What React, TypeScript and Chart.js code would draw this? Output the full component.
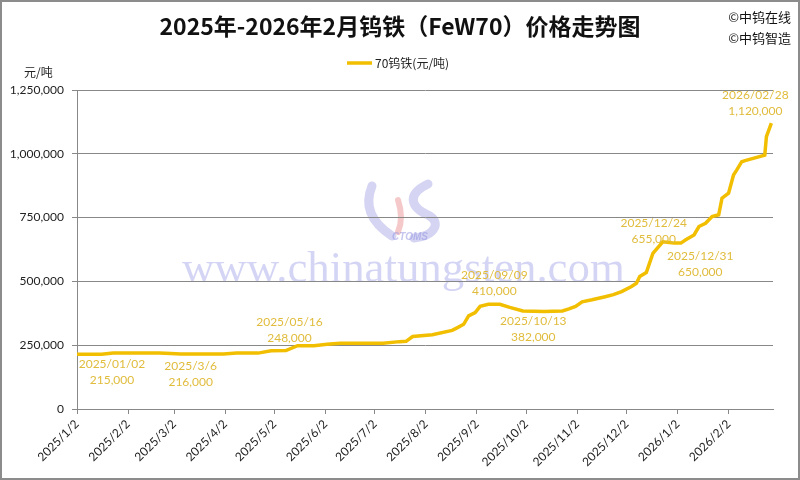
import React, { useEffect, useRef } from "react";
import { Chart, registerables } from "chart.js";
Chart.register(...registerables);

// ---------- data ----------
const priceDates = [
  "2025/01/02", "2025/01/10", "2025/01/17", "2025/01/24", "2025/02/07", "2025/02/21", "2025/02/28",
  "2025/03/06", "2025/03/20", "2025/04/01", "2025/04/09", "2025/04/22", "2025/04/30", "2025/05/09",
  "2025/05/16", "2025/05/26", "2025/06/03", "2025/06/11", "2025/06/25", "2025/07/07", "2025/07/17",
  "2025/07/21", "2025/07/25", "2025/08/06", "2025/08/18", "2025/08/21", "2025/08/25", "2025/08/28",
  "2025/09/01", "2025/09/04", "2025/09/09", "2025/09/16", "2025/09/22", "2025/09/30", "2025/10/13",
  "2025/10/24", "2025/10/28", "2025/11/01", "2025/11/05", "2025/11/11", "2025/11/19", "2025/11/24",
  "2025/11/29", "2025/12/05", "2025/12/08", "2025/12/10", "2025/12/14", "2025/12/18", "2025/12/24",
  "2025/12/28", "2025/12/31", "2026/01/04", "2026/01/07", "2026/01/12", "2026/01/15", "2026/01/19",
  "2026/01/23", "2026/01/27", "2026/01/29", "2026/02/02", "2026/02/05", "2026/02/07", "2026/02/10",
  "2026/02/12", "2026/02/24", "2026/02/25", "2026/02/28",
];
const priceValues = [
  215000, 215000, 215000, 219000, 219000, 219000, 217000,
  216000, 216000, 216000, 219000, 219000, 228000, 229000,
  248000, 248000, 254000, 258000, 258000, 258000, 264000,
  265000, 284000, 291000, 308000, 318000, 332000, 365000,
  378000, 402000, 410000, 410000, 398000, 384000, 382000,
  384000, 392000, 402000, 420000, 428000, 440000, 448000,
  460000, 480000, 493000, 519000, 535000, 610000, 655000,
  652000, 650000, 650000, 663000, 682000, 715000, 728000,
  754000, 761000, 826000, 846000, 917000, 937000, 969000,
  973000, 995000, 1067000, 1120000,
];
const seriesName = "70钨铁(元/吨)";
const xTickDates = [
  "2025/1/2", "2025/2/2", "2025/3/2", "2025/4/2", "2025/5/2", "2025/6/2", "2025/7/2",
  "2025/8/2", "2025/9/2", "2025/10/2", "2025/11/2", "2025/12/2", "2026/1/2", "2026/2/2",
];
const xTickLabels = [
  "2025/1/2", "2025/2/2", "2025/3/2", "2025/4/2", "2025/5/2", "2025/6/2", "2025/7/2",
  "2025/8/2", "2025/9/2", "2025/10/2", "2025/11/2", "2025/12/2", "2026/1/2", "2026/2/2",
];
const yMin = 0;
const yMax = 1250000;
const yStep = 250000;
const annDates = ["2025/01/02", "2025/03/06", "2025/05/16", "2025/09/09", "2025/10/13", "2025/12/24", "2025/12/31", "2026/02/28"];
const annDateLabels = ["2025/01/02", "2025/3/6", "2025/05/16", "2025/09/09", "2025/10/13", "2025/12/24", "2025/12/31", "2026/02/28"];
const annValues = [215000, 216000, 248000, 410000, 382000, 655000, 650000, 1120000];
const annValueLabels = ["215,000", "216,000", "248,000", "410,000", "382,000", "655,000", "650,000", "1,120,000"];

const title = "2025年-2026年2月钨铁（FeW70）价格走势图";
const copyrights = ["©中钨在线", "©中钨智造"];
const unitLabel = "元/吨";
const watermark = "www.chinatungsten.com";

// ---------- styling ----------
const annOffsets: [number, number][] = [[35, 10], [10, 12], [-8, -24], [6, -29], [-11, 10], [-9, -19], [26, 13], [-16, -28]];
const LINE = "#F2BE00";
const ANN = "#E0BC3C";
const AXIS = "#888888";
const FONT = "Lato, 'Open Sans', sans-serif";
const CJK = "'Noto Sans CJK SC', sans-serif";

const base = Date.UTC(2025, 0, 2);
function dayOf(s: string): number {
  const [y, m, d] = s.split("/").map(Number);
  return Math.round((Date.UTC(y, m - 1, d) - base) / 86400000);
}

const decor = {
  id: "decor",
  beforeDraw(chart: any) {
    const ctx = chart.ctx as CanvasRenderingContext2D;
    ctx.save();
    ctx.fillStyle = "#ffffff";
    ctx.fillRect(0, 0, chart.width, chart.height);
    // watermark logo
    ctx.lineCap = "round";
    ctx.strokeStyle = "rgba(150,150,225,0.4)";
    ctx.lineWidth = 9;
    ctx.beginPath();
    ctx.moveTo(372, 186);
    ctx.quadraticCurveTo(360, 215, 392, 236);
    ctx.stroke();
    ctx.strokeStyle = "rgba(230,120,120,0.4)";
    ctx.lineWidth = 6;
    ctx.beginPath();
    ctx.moveTo(398, 200);
    ctx.quadraticCurveTo(404, 218, 398, 232);
    ctx.stroke();
    ctx.strokeStyle = "rgba(150,150,225,0.4)";
    ctx.lineWidth = 9;
    ctx.beginPath();
    ctx.moveTo(428, 184);
    ctx.bezierCurveTo(405, 195, 412, 208, 428, 215);
    ctx.bezierCurveTo(442, 222, 435, 236, 414, 238);
    ctx.stroke();
    ctx.fillStyle = "rgba(150,150,225,0.55)";
    ctx.font = "italic bold 10px 'Liberation Sans', sans-serif";
    ctx.textAlign = "center";
    ctx.textBaseline = "middle";
    ctx.fillText("CTOMS", 410, 237);
    // watermark text
    ctx.font = "44px 'Liberation Serif', serif";
    const w = ctx.measureText(watermark).width;
    const size = 44 * 443 / w;
    ctx.font = `${size}px 'Liberation Serif', serif`;
    ctx.fillStyle = "rgba(120,120,220,0.32)";
    ctx.textAlign = "left";
    ctx.textBaseline = "alphabetic";
    ctx.fillText(watermark, 182, 282);
    ctx.restore();
  },
  afterDraw(chart: any) {
    const ctx = chart.ctx as CanvasRenderingContext2D;
    const xs = chart.scales.x;
    const ys = chart.scales.y;
    ctx.save();
    // title
    ctx.fillStyle = "#111";
    ctx.font = `bold 23px ${CJK}`;
    ctx.textAlign = "center";
    ctx.textBaseline = "middle";
    ctx.fillText(title, 400, 26);
    // copyrights
    ctx.font = `13px ${CJK}`;
    ctx.textAlign = "right";
    ctx.fillStyle = "#111";
    ctx.fillText(copyrights[0], 791, 17);
    ctx.fillText(copyrights[1], 791, 38);
    // legend
    ctx.strokeStyle = LINE;
    ctx.lineWidth = 3.5;
    ctx.beginPath();
    ctx.moveTo(347, 63);
    ctx.lineTo(372, 63);
    ctx.stroke();
    ctx.font = `12px ${CJK}`;
    ctx.textAlign = "left";
    ctx.fillStyle = "#222";
    ctx.fillText(seriesName, 375, 63);
    // unit
    ctx.fillText(unitLabel, 24, 72);
    // annotations
    ctx.font = `12px ${FONT}`;
    ctx.fillStyle = ANN;
    ctx.textAlign = "center";
    annDates.forEach((d, i) => {
      const px = xs.getPixelForValue(dayOf(d));
      const py = ys.getPixelForValue(annValues[i]);
      const [dx, dy] = annOffsets[i];
      ctx.fillText(annDateLabels[i], px + dx, py + dy);
      ctx.fillText(annValueLabels[i], px + dx, py + dy + 16);
    });
    // outer border
    ctx.strokeStyle = "#8c8c8c";
    ctx.lineWidth = 2;
    ctx.strokeRect(1, 1, chart.width - 2, chart.height - 2);
    ctx.restore();
  },
};

export default function App() {
  const ref = useRef<HTMLCanvasElement | null>(null);
  useEffect(() => {
    if (!ref.current) return;
    const points = priceDates.map((d, i) => ({ x: dayOf(d), y: priceValues[i] }));
    const chart = new Chart(ref.current, {
      type: "line",
      data: {
        datasets: [
          {
            label: seriesName,
            data: points,
            borderColor: LINE,
            backgroundColor: LINE,
            borderWidth: 3.5,
            pointRadius: 0,
            tension: 0,
            fill: false,
          },
        ],
      },
      options: {
        responsive: false,
        animation: false,
        devicePixelRatio: 1,
        layout: { padding: { left: 0, top: 90, right: 27, bottom: 0 } },
        plugins: {
          legend: { display: false },
          title: { display: false },
          tooltip: { enabled: false },
        },
        scales: {
          x: {
            type: "linear",
            min: 0,
            max: 423,
            afterFit: (s: any) => { s.height = 71; },
            afterBuildTicks: (s: any) => { s.ticks = xTickDates.map((d) => ({ value: dayOf(d) })); },
            ticks: {
              autoSkip: false,
              maxRotation: 45,
              minRotation: 45,
              color: "#222",
              font: { family: FONT, size: 12 },
              callback: (_v: any, i: number) => xTickLabels[i],
            },
            grid: { drawOnChartArea: false, drawTicks: true, tickLength: 5, color: AXIS },
            border: { display: true, color: AXIS, width: 1 },
          },
          y: {
            min: yMin,
            max: yMax,
            afterFit: (s: any) => { s.width = 77; },
            ticks: {
              stepSize: yStep,
              color: "#222",
              padding: 8,
              font: { family: FONT, size: 12 },
              callback: (v: any) => Number(v).toLocaleString("en-US"),
            },
            grid: { color: AXIS, tickLength: 5, lineWidth: 1 },
            border: { display: true, color: AXIS, width: 1 },
          },
        },
      },
      plugins: [decor],
    });
    return () => chart.destroy();
  }, []);
  return (
    <div style={{ position: "fixed", left: 0, top: 0, width: 800, height: 480, background: "#fff" }}>
      <canvas ref={ref} width={800} height={480} style={{ display: "block", width: 800, height: 480 }} />
    </div>
  );
}
